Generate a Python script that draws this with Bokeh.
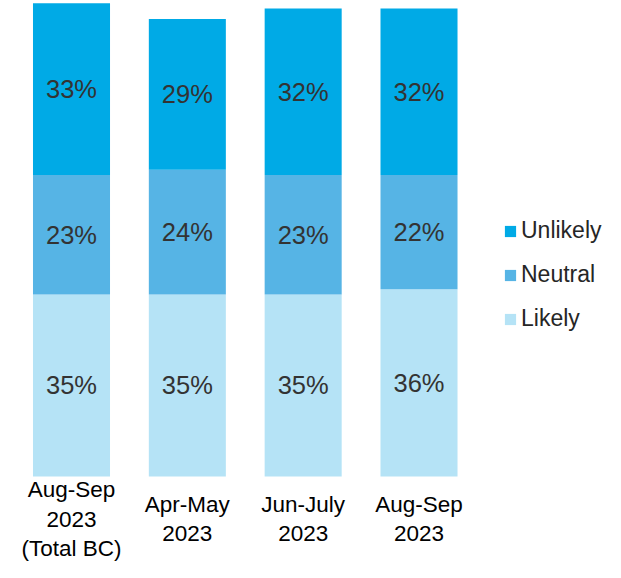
from bokeh.plotting import figure
from bokeh.models import ColumnDataSource, Range1d, Legend, LegendItem
from bokeh.core.properties import value
from bokeh.embed import file_html
from bokeh.resources import INLINE

# ---- data ----
categories = ["Aug-Sep 2023 (Total BC)", "Apr-May 2023", "Jun-July 2023", "Aug-Sep 2023"]
category_labels = ["Aug-Sep\n2023\n(Total BC)", "Apr-May\n2023", "Jun-July\n2023", "Aug-Sep\n2023"]
likely = [35, 35, 35, 36]
neutral = [23, 24, 23, 22]
unlikely = [33, 29, 32, 32]

series_names = ["Likely", "Neutral", "Unlikely"]
series_values = [likely, neutral, unlikely]
series_colors = ["#B5E3F6", "#56B4E5", "#00AAE6"]

FONT_NAME = "Liberation Sans"
FONT = value(FONT_NAME)

xpos = list(range(len(categories)))  # category index positions

p = figure(
    x_range=Range1d(-0.613, 4.61),
    y_range=Range1d(-16.54, 91.54),
    width=605, height=562,
    output_backend="svg", toolbar_location=None,
    x_axis_location=None, y_axis_location=None,
    min_border_left=0, min_border_right=0, min_border_top=0, min_border_bottom=0,
    outline_line_color=None,
)
p.grid.visible = False
p.background_fill_color = "white"

renderers = {}
base = [0] * len(categories)
for name, vals, col in zip(series_names, series_values, series_colors):
    tops = [b + v for b, v in zip(base, vals)]
    mids = [b + v / 2 for b, v in zip(base, vals)]
    src = ColumnDataSource(dict(x=xpos, bottom=base, top=tops, mid=mids,
                                lbl=[f"{v}%" for v in vals]))
    r = p.vbar(x="x", bottom="bottom", top="top", width=0.665, source=src,
               fill_color=col, line_color=None)
    renderers[name] = r
    p.text(x="x", y="mid", text="lbl", source=src, text_align="center",
           text_baseline="middle", text_font=FONT, text_font_size="25.5px",
           text_color="#333333")
    base = tops

# category labels below bars
lab_src = ColumnDataSource(dict(x=xpos, y=[-8.2] * len(categories), text=category_labels))
p.text(x="x", y="y", text="text", source=lab_src, text_align="center",
       text_baseline="middle", text_font=FONT, text_font_size="22.5px",
       text_color="#000000", text_line_height=1.17)

items = [LegendItem(label=n, renderers=[renderers[n]]) for n in ["Unlikely", "Neutral", "Likely"]]
legend = Legend(items=items, location=(503, 230), border_line_color=None,
                background_fill_alpha=0, label_text_font=FONT_NAME,
                label_text_font_size="23px", label_text_color="#262626",
                glyph_width=14, glyph_height=14, label_standoff=4,
                spacing=17, padding=0, margin=0, label_height=26)
p.add_layout(legend, "center")

open("out.html", "w").write(file_html(p, INLINE))
